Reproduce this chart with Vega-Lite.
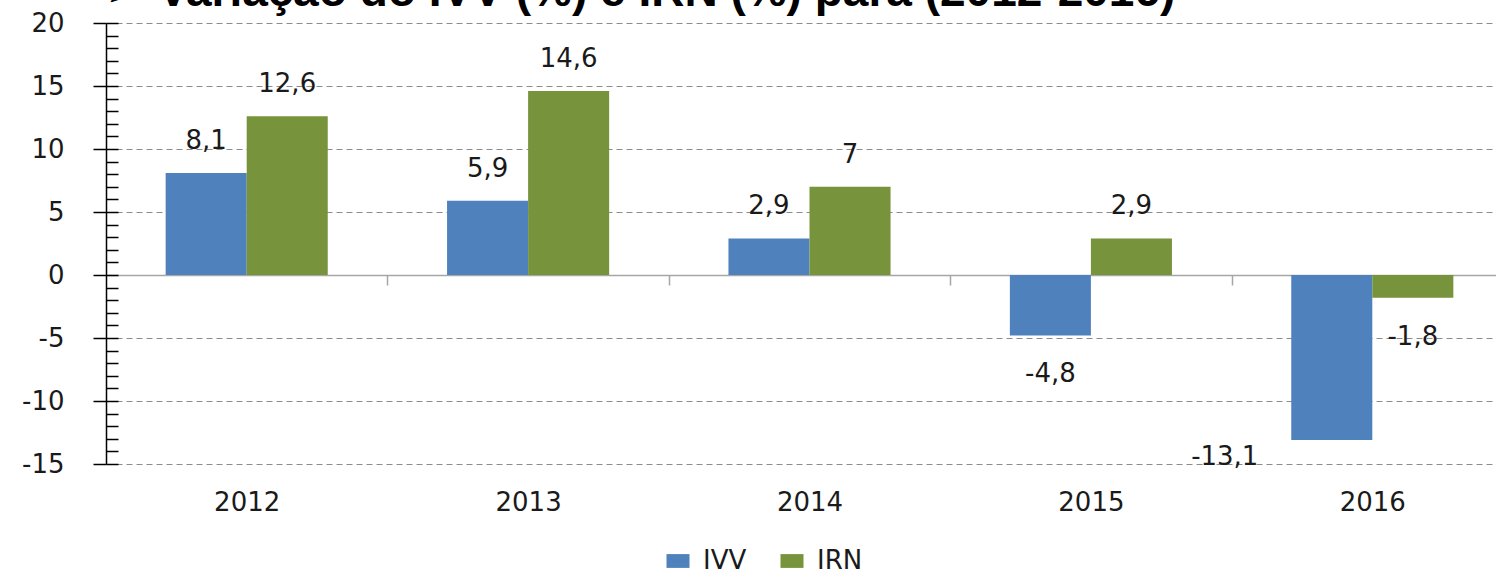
{
  "$schema": "https://vega.github.io/schema/vega-lite/v6.json",
  "width": 1390,
  "height": 441,
  "autosize": {"type": "none"},
  "padding": {"left": 106, "top": 23, "right": 0, "bottom": 105},
  "background": "white",
  "title": {
    "text": "➢ Variação do IVV (%) e IRN (%) para (2012-2016)",
    "anchor": "start",
    "frame": "group",
    "font": "Liberation Sans",
    "fontSize": 46,
    "fontWeight": "bold",
    "color": "#000000",
    "baseline": "alphabetic",
    "offset": 0,
    "dy": 42,
    "dx": 0
  },
  "config": {
    "view": {"stroke": null},
    "locale": {"number": {"decimal": ",", "thousands": ".", "grouping": [3], "currency": ["", ""], "minus": "-"}},
    "axis": {"labelFont": "DejaVu Sans", "labelColor": "#1a1a1a", "titleFont": "DejaVu Sans"},
    "legend": {"labelFont": "DejaVu Sans"},
    "text": {"font": "DejaVu Sans"}
  },
  "data": {
    "values": [
      {"year": "2012", "series": "IVV", "value": 8.1},
      {"year": "2012", "series": "IRN", "value": 12.6},
      {"year": "2013", "series": "IVV", "value": 5.9},
      {"year": "2013", "series": "IRN", "value": 14.6},
      {"year": "2014", "series": "IVV", "value": 2.9},
      {"year": "2014", "series": "IRN", "value": 7},
      {"year": "2015", "series": "IVV", "value": -4.8},
      {"year": "2015", "series": "IRN", "value": 2.9},
      {"year": "2016", "series": "IVV", "value": -13.1},
      {"year": "2016", "series": "IRN", "value": -1.8}
    ]
  },
  "resolve": {"axis": {"y": "independent"}},
  "layer": [
    {
      "mark": {"type": "bar"},
      "encoding": {
        "x": {
          "field": "year", "type": "nominal",
          "scale": {"range": [0, 1407], "paddingInner": 0.424, "paddingOuter": 0.212},
          "axis": {
            "title": null, "labelAngle": 0, "orient": "bottom", "offset": -189,
            "domainColor": "#a6a6a6", "domainWidth": 1.5,
            "tickColor": "#a6a6a6", "tickWidth": 1.5, "tickSize": 10, "tickBand": "center", "tickOffset": 140.75,
            "labelOffset": -140.75,
            "labelFontSize": 26, "labelPadding": 204
          }
        },
        "xOffset": {"field": "series", "type": "nominal", "sort": ["IVV", "IRN"], "scale": {"paddingInner": 0, "paddingOuter": 0}},
        "y": {
          "field": "value", "type": "quantitative",
          "scale": {"domain": [-15, 20], "nice": false, "zero": false},
          "axis": {
            "title": null, "orient": "left",
            "values": [-15, -10, -5, 0, 5, 10, 15, 20],
            "grid": true, "gridDash": [6, 4], "gridColor": "#8c8c8c", "gridWidth": 1,
            "domainColor": "#000000", "domainWidth": 1.5,
            "tickColor": "#000000", "tickWidth": 1.5, "tickSize": 13,
            "labelFontSize": 26, "labelPadding": 29
          }
        },
        "color": {
          "field": "series", "type": "nominal",
          "scale": {"domain": ["IVV", "IRN"], "range": ["#4F81BD", "#77933C"]},
          "legend": {
            "title": null, "orient": "none", "direction": "horizontal",
            "legendX": 559, "legendY": 525,
            "symbolType": "M-1,-0.6H1V0.6H-1Z", "symbolSize": 529,
            "symbolStrokeWidth": 0, "labelFontSize": 26, "labelColor": "#1a1a1a",
            "labelOffset": 12, "columnPadding": 32
          }
        }
      }
    },
    {
      "transform": [{"filter": "datum.value >= 0"}],
      "mark": {"type": "text", "baseline": "middle", "align": "center", "dy": -32, "fontSize": 26, "color": "#1a1a1a"},
      "encoding": {
        "x": {"field": "year", "type": "nominal"},
        "xOffset": {"field": "series", "type": "nominal", "sort": ["IVV", "IRN"]},
        "y": {
          "field": "value", "type": "quantitative",
          "axis": {
            "title": null, "orient": "left",
            "values": [-15, -14, -13, -12, -11, -10, -9, -8, -7, -6, -5, -4, -3, -2, -1, 0, 1, 2, 3, 4, 5, 6, 7, 8, 9, 10, 11, 12, 13, 14, 15, 16, 17, 18, 19, 20],
            "labels": false, "domain": false, "grid": false,
            "tickColor": "#000000", "tickWidth": 1.5, "tickSize": -12
          }
        },
        "text": {"field": "value", "type": "quantitative", "format": "~g"}
      }
    },
    {
      "transform": [{"filter": "datum.value < 0 && datum.value > -10"}],
      "mark": {"type": "text", "baseline": "middle", "align": "center", "dy": 39, "fontSize": 26, "color": "#1a1a1a"},
      "encoding": {
        "x": {"field": "year", "type": "nominal"},
        "xOffset": {"field": "series", "type": "nominal", "sort": ["IVV", "IRN"]},
        "y": {"field": "value", "type": "quantitative", "axis": null},
        "text": {"field": "value", "type": "quantitative", "format": "~g"}
      }
    },
    {
      "transform": [{"filter": "datum.value <= -10"}],
      "mark": {"type": "text", "baseline": "middle", "align": "center", "dy": 17, "dx": -107, "fontSize": 26, "color": "#1a1a1a"},
      "encoding": {
        "x": {"field": "year", "type": "nominal"},
        "xOffset": {"field": "series", "type": "nominal", "sort": ["IVV", "IRN"]},
        "y": {"field": "value", "type": "quantitative", "axis": null},
        "text": {"field": "value", "type": "quantitative", "format": "~g"}
      }
    }
  ]
}
